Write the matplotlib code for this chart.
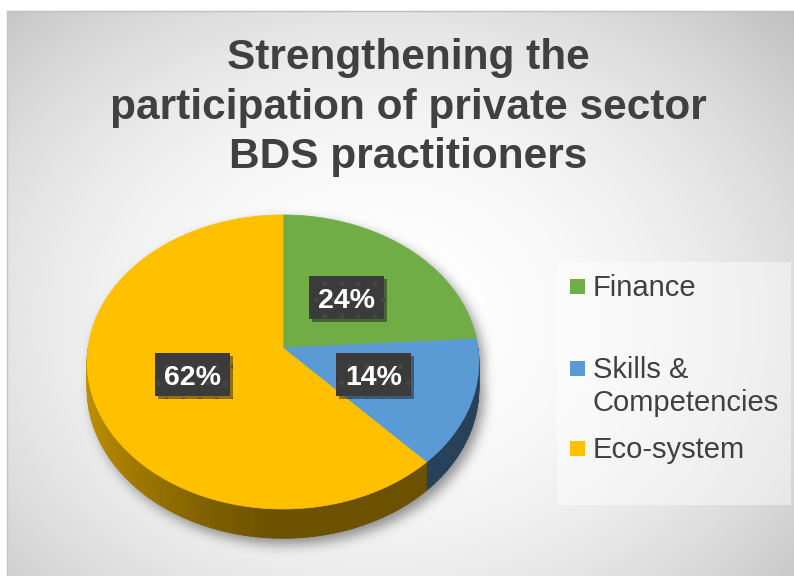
import numpy as np
import matplotlib
matplotlib.use("Agg")
import matplotlib.pyplot as plt
from matplotlib.patches import Polygon, Rectangle
from matplotlib.path import Path
from matplotlib import patheffects as pe

# ---- data ----
categories = ["Finance", "Skills &\nCompetencies", "Eco-system"]
shares = [24, 14, 62]
slice_colors = ["#70AD47", "#5B9BD5", "#FFC000"]
title = "Strengthening the\nparticipation of private sector\nBDS practitioners"

# ---- canvas (pixel coordinates, y downwards) ----
W, H = 794, 576
fig = plt.figure(figsize=(W / 100, H / 100), dpi=100)
ax = fig.add_axes([0, 0, 1, 1])
ax.set_xlim(0, W)
ax.set_ylim(H, 0)
ax.axis("off")

FONT = "Liberation Sans"
TXT = "#404040"

# background: soft radial grey gradient inside the chart frame
X0, Y0 = 7, 11
yy, xx = np.mgrid[Y0:H, X0:W] + 0.5
d = np.sqrt(((xx - 380) / 520) ** 2 + ((yy - 320) / 420) ** 2)
v = 1 - 0.21 * d ** 2.1
bg = np.dstack([v, v, v])
ax.imshow(bg, extent=(X0, W, H, Y0), origin="upper", zorder=0,
          interpolation="bilinear", aspect="auto")
ax.plot([X0, W], [Y0, Y0], color="#bdbdbd", lw=1, zorder=0.5)
ax.plot([X0, X0], [Y0, H], color="#c4c4c4", lw=1, zorder=0.5)

# ---- pie geometry (tilted disc with mild perspective) ----
CX, CY = 283, 348
RX, RY = 195, 145.7
K = 0.095
DEPTH = 26.5


def proj(t_deg, r=1.0, drop=0.0):
    t = np.radians(t_deg)
    u, w = r * np.cos(t), r * np.sin(t)
    den = 1 + K * w
    return CX + RX * u / den, CY - RY * w / den + drop / den


# slice boundaries: start at 12 o'clock, run clockwise
fr = np.array(shares, dtype=float) / np.sum(shares)
bounds = 90 - 360 * np.concatenate([[0], np.cumsum(fr)])

# drop shadow under the disc
sil_t1 = np.linspace(0, 180, 120)
sil_t2 = np.linspace(180, 360, 120)
sx1, sy1 = proj(sil_t1)
sx2, sy2 = proj(sil_t2, drop=DEPTH)
sil = np.column_stack([np.r_[sx1, sx2], np.r_[sy1, sy2]])
sil = sil + np.array([5, 6])
gy, gx = np.mgrid[0:H, 0:W] + 0.5
inside = Path(sil).contains_points(np.column_stack([gx.ravel(), gy.ravel()]))
mask = inside.reshape(H, W).astype(float)


def blur(a, s):
    r = int(3 * s)
    k = np.exp(-0.5 * (np.arange(-r, r + 1) / s) ** 2)
    k /= k.sum()
    a = np.apply_along_axis(lambda m: np.convolve(m, k, mode="same"), 0, a)
    return np.apply_along_axis(lambda m: np.convolve(m, k, mode="same"), 1, a)


sh = blur(mask, 6.0)
shadow = np.zeros((H, W, 4))
shadow[..., 3] = 0.42 * sh
ax.imshow(shadow, extent=(0, W, H, 0), origin="upper", zorder=1,
          interpolation="bilinear", aspect="auto")


def shade(color, t_deg):
    c = np.array(matplotlib.colors.to_rgb(color))
    f = 0.42 + 0.33 * max(0.0, -np.cos(np.radians(t_deg))) ** 1.3
    return np.clip(c * f, 0, 1)


# rim of the disc (only the front half is visible)
for i, col in enumerate(slice_colors):
    a_hi, a_lo = bounds[i], bounds[i + 1]
    for off in (0, 360, -360):
        lo = max(a_lo + off, 180)
        hi = min(a_hi + off, 360)
        if hi <= lo:
            continue
        ts = np.linspace(lo, hi, max(3, int((hi - lo) / 1.5)))
        for t0, t1 in zip(ts[:-1], ts[1:]):
            xa, ya = proj(np.array([t0, t1]))
            xb, yb = proj(np.array([t1, t0]), drop=DEPTH)
            fc = shade(col, 0.5 * (t0 + t1))
            ax.add_patch(Polygon(np.column_stack([np.r_[xa, xb], np.r_[ya, yb]]),
                                 closed=True, facecolor=fc, edgecolor=fc,
                                 lw=0.6, zorder=2))

# top face
for i, col in enumerate(slice_colors):
    ts = np.linspace(bounds[i], bounds[i + 1], 200)
    px, py = proj(ts)
    pts = np.column_stack([np.r_[CX, px], np.r_[CY, py]])
    ax.add_patch(Polygon(pts, closed=True, facecolor=col, edgecolor=col,
                         lw=0.5, zorder=3))

# percentage labels in dark boxes
BOX_W, BOX_H = 75, 43
plt.rcParams["hatch.linewidth"] = 1.0
for i, s in enumerate(shares):
    mid = 0.5 * (bounds[i] + bounds[i + 1])
    lx, ly = proj(mid, r=0.49)
    box = Rectangle((lx - BOX_W / 2, ly - BOX_H / 2), BOX_W, BOX_H,
                    facecolor="#3b3b3b", edgecolor="#474747", hatch=".",
                    lw=0, zorder=4)
    box.set_path_effects([pe.SimplePatchShadow(offset=(2, -2), alpha=0.45),
                          pe.Normal()])
    ax.add_patch(box)
    ax.text(lx, ly + 10, f"{s}%", ha="center", va="baseline", color="white",
            fontsize=20.5, fontweight="bold", family=FONT, zorder=5)

# title (anchored on the baseline of its last line)
ax.text(408, 168, title, ha="center", va="baseline", color=TXT,
        fontsize=30.5, fontweight="bold", family=FONT, linespacing=1.3,
        zorder=5)

# legend
ax.add_patch(Rectangle((557, 262), 234, 243, facecolor="white", alpha=0.45,
                       lw=0, zorder=1))
rows = [286, 368, 448]
LEG_GAP = 33
for lab, col, yc in zip(categories, slice_colors, rows):
    ax.add_patch(Rectangle((570, yc - 7.5), 15, 15, facecolor=col, lw=0,
                           zorder=5))
    extra = lab.count("\n") * LEG_GAP
    ax.text(593, yc + 10 + extra, lab, ha="left", va="baseline", color=TXT,
            fontsize=21, family=FONT, linespacing=1.25, zorder=5)

fig.savefig("out.png", dpi=100)
